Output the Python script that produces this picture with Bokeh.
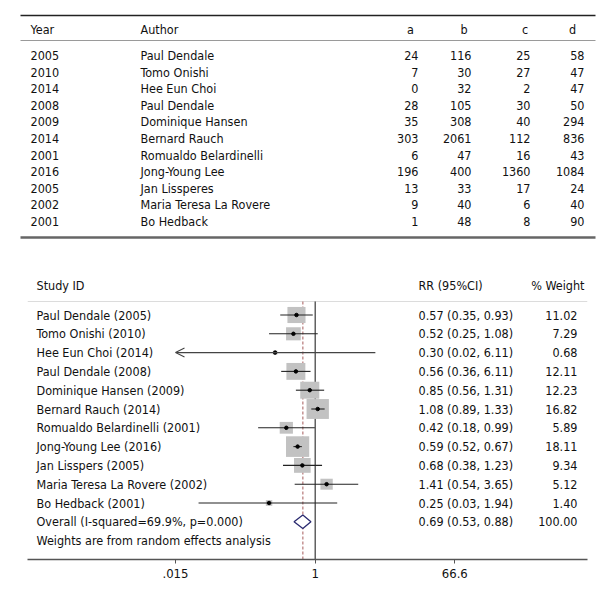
from bokeh.plotting import figure
from bokeh.models import Range1d, FixedTicker, Arrow, OpenHead, LinearScale
from bokeh.layouts import column
from bokeh.core.properties import value
from bokeh.embed import file_html
from bokeh.resources import INLINE
import math

# ---------------- data ----------------
years = ["2005", "2010", "2014", "2008", "2009", "2014", "2001", "2016", "2005", "2002", "2001"]
authors = ["Paul Dendale", "Tomo Onishi", "Hee Eun Choi", "Paul Dendale", "Dominique Hansen",
           "Bernard Rauch", "Romualdo Belardinelli", "Jong-Young Lee", "Jan Lissperes",
           "Maria Teresa La Rovere", "Bo Hedback"]
col_a = [24, 7, 0, 28, 35, 303, 6, 196, 13, 9, 1]
col_b = [116, 30, 32, 105, 308, 2061, 47, 400, 33, 40, 48]
col_c = [25, 27, 2, 30, 40, 112, 16, 1360, 17, 6, 8]
col_d = [58, 47, 47, 50, 294, 836, 43, 1084, 24, 40, 90]
table_headers = ["Year", "Author", "a", "b", "c", "d"]

study_ids = ["Paul Dendale (2005)", "Tomo Onishi (2010)", "Hee Eun Choi (2014)", "Paul Dendale (2008)",
             "Dominique Hansen (2009)", "Bernard Rauch (2014)", "Romualdo Belardinelli (2001)",
             "Jong-Young Lee (2016)", "Jan Lisspers (2005)", "Maria Teresa La Rovere (2002)",
             "Bo Hedback (2001)"]
rr = [0.57, 0.52, 0.30, 0.56, 0.85, 1.08, 0.42, 0.59, 0.68, 1.41, 0.25]
ci_lo = [0.35, 0.25, 0.015, 0.36, 0.56, 0.89, 0.18, 0.52, 0.38, 0.54, 0.03]
ci_hi = [0.93, 1.08, 6.11, 0.87, 1.31, 1.33, 0.99, 0.67, 1.23, 3.65, 1.94]
rr_labels = ["0.57 (0.35, 0.93)", "0.52 (0.25, 1.08)", "0.30 (0.02, 6.11)", "0.56 (0.36, 6.11)",
             "0.85 (0.56, 1.31)", "1.08 (0.89, 1.33)", "0.42 (0.18, 0.99)", "0.59 (0.52, 0.67)",
             "0.68 (0.38, 1.23)", "1.41 (0.54, 3.65)", "0.25 (0.03, 1.94)"]
weights = [11.02, 7.29, 0.68, 12.11, 12.23, 16.82, 5.89, 18.11, 9.34, 5.12, 1.40]
weight_labels = ["11.02", "7.29", "0.68", "12.11", "12.23", "16.82", "5.89", "18.11", "9.34", "5.12", "1.40"]
overall_label = "Overall (I-squared=69.9%, p=0.000)"
overall_rr, overall_lo, overall_hi = 0.69, 0.53, 0.88
overall_rr_label = "0.69 (0.53, 0.88)"
overall_weight_label = "100.00"
note = "Weights are from random effects analysis"
axis_ticks = [0.015, 1, 66.6]
axis_tick_labels = [".015", "1", "66.6"]

# ---------------- style ----------------
FAMILY = "DejaVu Sans Condensed, Roboto, sans-serif"
FONT = value(FAMILY)
FS = "12.5px"
TXT = "#111111"
W = 599
HA = 250

def txt(p, x, y, t, align="left", **kw):
    p.text(x=x, y=y, text=t, text_align=align, text_baseline="middle",
           text_font=FONT, text_font_size=FS, text_color=TXT, **kw)

# ---------------- table figure ----------------
pa = figure(width=W, height=HA, x_range=Range1d(0, W), y_range=Range1d(HA, 0),
            output_backend="svg", toolbar_location=None, min_border=0,
            x_axis_location=None, y_axis_location=None)
pa.frame_align = False
pa.grid.visible = False
pa.outline_line_color = None

pa.segment(x0=[20], y0=[15], x1=[595], y1=[15], line_color="#222222", line_width=1.5)
pa.segment(x0=[20], y0=[40], x1=[595], y1=[40], line_color="#9a9a9a", line_width=1)
pa.segment(x0=[20], y0=[237], x1=[595], y1=[237], line_color="#666666", line_width=2.5)

n = len(years)
row_y = [55 + i * 16.6 for i in range(n)]
txt(pa, [30], [29], [table_headers[0]])
txt(pa, [140], [29], [table_headers[1]])
txt(pa, [410, 463.5, 524.5, 572], [29] * 4, table_headers[2:], align="center")
txt(pa, [30] * n, row_y, years)
txt(pa, [140] * n, row_y, authors)
for xr, col in zip([418, 471, 530, 584], [col_a, col_b, col_c, col_d]):
    txt(pa, [xr] * n, row_y, [str(v) for v in col], align="right")

# ---------------- forest figure ----------------
px_left, px_right = 27, 587
axis_y = 559
tick_px_lo, tick_px_hi = 175, 454.3
ppd = (tick_px_hi - tick_px_lo) / (math.log10(axis_ticks[-1]) - math.log10(axis_ticks[0]))
one_px = tick_px_lo - ppd * math.log10(axis_ticks[0])
xmin = 10 ** ((px_left - one_px) / ppd)
xmax = 10 ** ((px_right - one_px) / ppd)

pb = figure(width=W, height=342, x_axis_type="log", x_range=Range1d(xmin, xmax),
            y_range=Range1d(axis_y, HA), output_backend="svg", toolbar_location=None,
            min_border_left=px_left, min_border_right=W - px_right,
            min_border_top=0, min_border_bottom=33, y_axis_location=None)
pb.frame_align = False
pb.grid.visible = False
pb.outline_line_color = None
pb.extra_x_ranges = {"px": Range1d(px_left, px_right)}
pb.extra_x_scales = {"px": LinearScale()}

ax = pb.xaxis[0]
ax.ticker = FixedTicker(ticks=axis_ticks)
ax.major_label_overrides = {t: l for t, l in zip(axis_ticks, axis_tick_labels)}
ax.minor_tick_line_color = None
ax.major_tick_in = 0
ax.major_tick_out = 4
ax.axis_line_color = "#555555"
ax.axis_line_width = 1.3
ax.major_tick_line_color = "#555555"
ax.major_label_text_font = FAMILY
ax.major_label_text_font_size = "13px"
ax.major_label_text_color = TXT
ax.major_label_standoff = 5

y0, dy = 314.5, 18.8
fy = [y0 + i * dy for i in range(n)]
y_over = y0 + n * dy
y_note = y_over + 19
y_head, y_hline = 285, 301

# header
txt(pb, [36], [y_head], ["Study ID"], x_range_name="px")
txt(pb, [418], [y_head], ["RR (95%CI)"], x_range_name="px")
txt(pb, [584], [y_head], ["% Weight"], align="right", x_range_name="px")
pb.segment(x0=[px_left], y0=[y_hline], x1=[px_right], y1=[y_hline], line_color="#dcdcdc",
           line_width=1, x_range_name="px")

# reference lines
pb.segment(x0=[1], y0=[y_hline], x1=[1], y1=[axis_y], line_color="#111111", line_width=1)
pb.segment(x0=[overall_rr], y0=[y_hline], x1=[overall_rr], y1=[axis_y], line_color="#c08a8a",
           line_width=1.4, line_dash="3 2")

# boxes
bw = [5.45 * math.sqrt(w) for w in weights]
bh = [4.85 * math.sqrt(w) for w in weights]
pb.rect(x=rr, y=fy, width=bw, height=bh, width_units="screen", height_units="screen",
        fill_color="#c2c2c2", line_color=None)

# CIs
amin = axis_ticks[0]
seg_i = [i for i in range(n) if ci_lo[i] > amin]
pb.segment(x0=[ci_lo[i] for i in seg_i], y0=[fy[i] for i in seg_i],
           x1=[ci_hi[i] for i in seg_i], y1=[fy[i] for i in seg_i],
           line_color="#222222", line_width=1.1)
for i in range(n):
    if ci_lo[i] <= amin:
        pb.add_layout(Arrow(end=OpenHead(size=9, line_color="#444444", line_width=1.1),
                            x_start=ci_hi[i], y_start=fy[i], x_end=amin, y_end=fy[i],
                            line_color="#444444", line_width=1.1))

pb.scatter(x=rr, y=fy, marker="circle", size=3.5, color="#000000")

# overall diamond
pb.patch(x=[overall_lo, overall_rr, overall_hi, overall_rr],
         y=[y_over, y_over - 6.8, y_over, y_over + 6.8],
         fill_color="white", line_color="#2b2b70", line_width=1.3)

# text columns
txt(pb, [36] * n, fy, study_ids, x_range_name="px")
txt(pb, [418] * n, fy, rr_labels, x_range_name="px")
txt(pb, [577] * n, fy, weight_labels, align="right", x_range_name="px")
txt(pb, [36], [y_over], [overall_label], x_range_name="px")
txt(pb, [418], [y_over], [overall_rr_label], x_range_name="px")
txt(pb, [577], [y_over], [overall_weight_label], align="right", x_range_name="px")
txt(pb, [36], [y_note], [note], x_range_name="px")

layout = column(pa, pb, spacing=0)
open("out.html", "w").write(file_html(layout, INLINE))
